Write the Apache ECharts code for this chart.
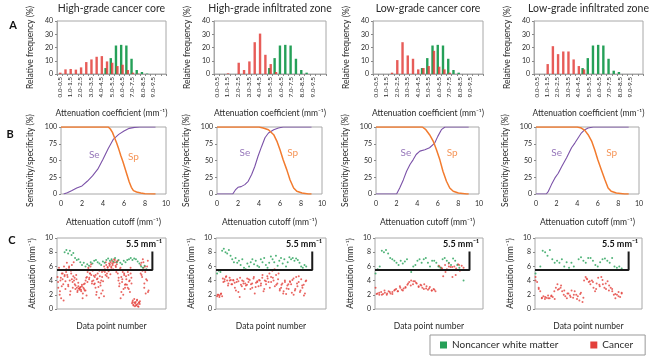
<!DOCTYPE html>
<html><head><meta charset="utf-8">
<script src="https://cdn.jsdelivr.net/npm/echarts@6/dist/echarts.min.js"></script>
<style>html,body{margin:0;padding:0;background:#fff}#c{width:650px;height:361px}</style>
</head><body><div id="c"></div>
<script>
// ---------------- DATA ----------------
const panelTitles = ['High-grade cancer core','High-grade infiltrated zone','Low-grade cancer core','Low-grade infiltrated zone'];
const binLabels = ['0.0-0.5','0.5-1.0','1.0-1.5','1.5-2.0','2.0-2.5','2.5-3.0','3.0-3.5','3.5-4.0','4.0-4.5','4.5-5.0','5.0-5.5','5.5-6.0','6.0-6.5','6.5-7.0','7.0-7.5','7.5-8.0','8.0-8.5','8.5-9.0','9.0-9.5','9.5-10.0','10.0-10.5'];
const freqTicks = [0,10,20,30,40];

const histNoncancer1 = [0,0,0,0,0,0,0,0,0,4.5,12,21.5,22,21.5,11.5,3,1.5,0.3,0,0,0];
const histCancer1    = [1,3.5,3.8,3.3,5,9,11,13,13.5,9.5,8.5,6,7,3,1,0.3,0,0,0,0,0];
const histNoncancer2 = [0,0,0,0,0,0,0,0,0,0,4.5,12,21.5,22,21.5,11.5,3,1,0,0,0];
const histCancer2    = [0,0,0.5,0,8.5,3,9.5,24,30.5,14.5,7.5,1.5,0,0,0,0,0,0,0,0,0];
const histNoncancer3 = [0,0,0,0,0,0,0,0,0,4.5,12,21.5,22,21.5,11.5,3,1,0,0,0,0];
const histCancer3    = [0,0,0,1,10.5,24,14,11.5,3.5,4.5,6,17.5,5.5,3.5,1,0,0,0,0,0,0];
const histNoncancer4 = [0,0,0,0,0,0,0,0,0,4.5,12,21.5,22,21.5,11.5,2.5,1.5,0,0,0,0];
const histCancer4    = [0,0,7.5,21,15,17,17,11,6,3.5,0,0,0,0,0,0,0,0,0,0,0];

// sensitivity (Se) / specificity (Sp) vs attenuation cutoff: [cutoff, %]
const se1 = [[0.25,0],[0.6,2],[1,5],[1.5,9],[2,12],[2.5,19],[3,27],[3.5,37],[4,52],[4.5,68],[5,82],[5.5,89],[6,94],[6.5,98],[7,99.5],[7.5,100],[9,100]];
const sp1 = [[0,100],[4.5,100],[4.7,97],[4.9,92],[5.1,84],[5.3,76],[5.5,67],[5.7,57],[5.9,48],[6.1,38],[6.3,28],[6.5,18],[6.7,10],[6.9,5],[7.2,3],[7.6,1.5],[8,0.5],[9,0]];
const se2 = [[0,0],[1.5,0],[1.75,6],[2,10],[2.3,11],[2.65,14],[2.97,19],[3.3,29],[3.6,41],[3.9,56],[4.25,71],[4.57,84],[4.9,91],[5.4,96],[5.85,98.5],[6.3,100],[9,100]];
const sp2 = [[0,100],[4,100],[4.4,98.5],[4.9,96],[5.4,88.5],[5.7,79],[6,66],[6.3,51],[6.65,36],[6.96,21],[7.3,9],[7.6,4],[8.1,1.5],[8.7,0],[9,0]];
const se3 = [[0,0],[2,0],[2.3,9],[2.65,21],[2.97,34],[3.3,44],[3.6,51],[3.9,59],[4.26,64],[4.74,66],[5.2,69],[5.7,76],[6,86],[6.35,96],[6.7,100],[9,100]];
const sp3 = [[0,100],[4.5,100],[4.84,96],[5.2,88.5],[5.55,79],[5.87,66],[6.2,51],[6.5,34],[6.84,19],[7.16,9],[7.5,4],[8,1.5],[8.8,0],[9,0]];
const se4 = [[0,0],[1,0],[1.2,4],[1.5,14],[1.84,24],[2.16,31],[2.5,41],[2.97,54],[3.45,69],[3.77,76],[4.1,84],[4.4,91],[4.74,96],[5.06,98.5],[5.55,100],[9,100]];
const sp4 = [[0,100],[4,100],[4.4,98.5],[4.74,95],[5.06,88.5],[5.4,79],[5.7,66],[6,51],[6.35,36],[6.7,21],[7,9],[7.3,4],[7.8,1.5],[8.6,0],[9,0]];
// label anchor points for "Se"/"Sp" [cutoff, %]
const seLabelAt = [[3.17,59],[2.65,62],[2.9,62],[2.0,62]];
const spLabelAt = [[6.9,56],[7.2,62],[7.4,62],[7.35,62]];

// attenuation per data point (mm^-1); each block spans [first, last] data point number (0-100 scale)
const cancerC1 = [4.5,3,5.5,2,4,1.5,5,4.2,3.5,6,4.8,2.8,
  5.2,6.5,4.5,3.2,5.8,4,2.5,5,6.2,3.8,4.6,
  4,3.5,2.8,4.8,3,2.6,3.2,2.9,2.7,3.1,2.5,3.4,1.5,3,2.8,3.6,2.6,4.4,
  4.5,5.2,5.8,4.2,5,6,4.8,3.6,5.4,
  4,3.5,4.5,3,2,4.2,5,3.8,1.6,4.6,3.3,4,5.2,2.6,
  5.4,6,5.6,4.8,6.2,5,5.8,4.4,6.4,
  6.3,6.6,5.8,6.8,6.2,6.5,5.5,6.9,6.1,5.2,6.7,
  5,4,3.2,5.6,1.5,4.5,3.8,5.2,2.8,4.8,3.4,
  3.5,4.2,5.5,3,4.8,3.9,2.4,5,4.4,
  0.8,1.2,0.5,0.9,0.4,1,0.6,1.3,0.7,0.3,0.9,1.1,
  5,6.5,4.5,7,5.8,3,6,2.2,5.5,4,6.8,2.6];
const cancerC1b = [3.8,5.8,2.5,4.4,3.2,5.0,1.2,4.6,3.9,5.6,
  4.8,3.4,6.0,2.0,5.4,4.2,3.0,6.6,4.4,
  3.3,4.2,2.4,3.7,2.9,3.0,2.7,3.2,2.2,3.5,2.6,4.0,1.9,3.8,
  5.6,4.4,5.0,6.3,3.9,5.5,4.7,
  3.6,4.8,2.4,4.3,3.1,5.4,3.7,2.2,4.5,3.9,1.8,
  5.2,6.6,4.6,5.9,5.3,6.1,4.9,
  6.0,6.4,5.6,7.0,6.6,5.9,6.3,6.8,
  4.4,3.6,5.8,2.4,4.2,2.0,5.0,3.0,
  4.6,3.4,5.2,2.8,4.0,5.8,3.6,
  1.0,0.6,1.4,0.8,0.5,1.2,0.4,0.9,0.7,
  6.2,4.8,5.4,6.6,3.6,5.2,4.2,6.0,2.4];
const noncancerC1 = [8.0,8.3,7.8,8.2,7.6,7.9,7.2,6.9,7.0,6.6,6.2,6.5,6.0,6.3,6.1,6.6,6.4,6.8,6.9,6.6,6.4,6.2,6.7,6.5,6.9,7.1,6.8,7.0,6.7,7.2,6.6,6.9,6.5,6.3,6.8,6.6,6.9,7.0,7.2,6.9,7.1,7.0,6.7,6.4,6.0,5.8,6.1,5.6];
const cancerC2 = [1.8,2.0,1.9,2.1,1.8,
  3.8,4.2,4.5,4.0,3.6,4.4,4.1,3.5,
  4.0,3.7,2.6,4.2,3.9,1.7,3.4,4.0,3.6,2.8,3.3,4.3,
  3.8,4.1,3.5,3.0,4.3,2.2,3.7,3.9,3.2,4.0,
  3.6,4.4,2.5,4.0,3.5,4.6,3.8,3.0,
  4.5,5.4,4.0,3.2,4.8,3.6,5.0,2.8,
  3.0,3.6,2.5,4.0,2.1,3.3,2.8,3.9,
  3.5,4.1,2.0,2.6,4.5,3.2,3.8,2.4,4.2,3.0,3.4,2.2,4.0];
const cancerC2b = [2.0,1.7,2.2,
  4.3,3.9,4.6,3.3,4.0,
  3.5,4.1,3.0,3.8,2.4,4.4,3.2,3.9,3.6,
  3.4,4.2,2.8,3.6,4.5,3.1,3.8,
  4.1,3.3,4.8,2.8,3.9,4.3,
  5.0,3.8,4.4,5.6,3.4,4.2,
  2.6,3.4,2.2,3.8,2.9,3.5,
  3.8,2.3,4.3,2.8,3.6,4.6,2.6,3.3,1.9,3.9];
const noncancerC2 = [5.0,5.4,5.2,8.2,8.5,8.0,7.8,8.3,7.5,7.0,6.6,7.2,6.5,6.8,6.2,7.0,5.8,5.6,6.4,6.0,6.6,7.0,6.3,6.8,6.1,5.9,7.0,6.6,7.2,6.2,5.8,6.5,7.4,7.0,6.6,7.5,6.1,6.8,7.2,6.4,7.0,6.0,6.6,7.3,7.0,7.2,6.8,7.1,6.9,6.5,6.0,5.8,6.2,6.0];
const cancerC3a = [3.0,2.2,2.0,2.4,2.1,2.3,2.0,2.5,2.2,2.4,2.6,2.8,2.5,3.2,2.7,2.9,3.0,3.4,3.8,4.0,3.5,3.9,3.6,3.2,3.4,3.0,3.5,2.9,2.7,3.1,2.6,2.8,2.5];
const cancerC3c = [2.1,2.3,2.0,2.6,2.2,2.4,2.1,2.7,2.5,3.0,2.6,3.1,3.6,3.3,3.9,3.7,3.1,3.3,2.8,3.2,2.9,2.6,2.7];
const cancerC3b = [5.5,6.0,5.8,4.6,6.2,5.6,6.4,5.9,4.5,6.0,5.7,6.3,5.4,6.1,5.8];
const cancerC3d = [6.1,5.7,5.2,6.0,5.9,4.8,6.2,5.5];
const noncancerC3 = [5.0,5.6,6.0,8.2,8.0,8.3,7.8,7.2,7.0,6.8,6.5,6.2,6.8,6.4,6.7,7.0,5.5,5.2,6.0,6.2,6.8,7.0,6.5,7.0,7.2,6.5,6.0,6.8,6.8,6.5,6.0,5.8,7.0,7.2,6.8,6.5,6.2,7.1,6.8,6.2,5.8,5.5,4.0];
const cancerC4 = [4.5,3.8,3.0,2.5,
  1.5,1.8,1.4,1.6,1.9,1.5,1.8,1.7,
  2.5,3.0,3.5,2.8,
  3.0,2.5,2.0,1.8,1.5,2.2,1.9,2.6,1.6,
  2.5,2.0,1.8,1.2,2.3,1.0,
  4.0,4.5,4.2,3.8,
  3.5,4.0,3.0,2.5,3.6,4.4,3.2,
  4.5,3.5,3.0,2.8,3.9,3.3,
  3.0,2.5,2.0,1.5,2.0,2.4,1.7,2.2];
const cancerC4b = [4.0,2.8,1.6,1.7,1.5,1.9,1.4,2.7,3.3,2.6,2.2,1.7,2.0,1.4,2.1,1.6,4.3,3.9,3.8,2.8,3.4,4.1,3.6,2.6,2.8,2.1,1.8,2.3];
const noncancerC4 = [5.0,5.5,6.0,8.2,8.0,7.5,8.3,7.0,6.5,6.8,6.5,7.0,6.0,6.6,5.8,6.5,6.0,5.5,7.0,7.3,6.8,6.5,7.2,7.2,6.8,6.2,6.0,6.6,7.0,7.1,6.8,6.5,7.2,6.0,5.8,6.0,5.7];

const scatterBlocks = [
  {cancer:[{v:cancerC1,from:0.5,to:84},{v:cancerC1b,from:1,to:83.5}], noncancer:[{v:noncancerC1,from:7,to:82}]},
  {cancer:[{v:cancerC2,from:1,to:82},{v:cancerC2b,from:1.5,to:81.5}], noncancer:[{v:noncancerC2,from:1,to:82}]},
  {cancer:[{v:cancerC3a,from:0.5,to:56},{v:cancerC3c,from:1.5,to:55},{v:cancerC3b,from:58,to:82},{v:cancerC3d,from:59,to:81}], noncancer:[{v:noncancerC3,from:0.5,to:82}]},
  {cancer:[{v:cancerC4,from:0.5,to:81},{v:cancerC4b,from:0.5,to:81}], noncancer:[{v:noncancerC4,from:0.5,to:81}]}
];
const threshold = 5.5;      // mm^-1 cutoff line
const scaleBarTop = 8.1;    // top of the vertical scale bar
const scaleBarAt = 87.5;    // data point number where scale bar sits
const legendNames = ['Noncancer white matter','Cancer'];

const histNon = [histNoncancer1,histNoncancer2,histNoncancer3,histNoncancer4];
const histCan = [histCancer1,histCancer2,histCancer3,histCancer4];
const seData = [se1,se2,se3,se4], spData = [sp1,sp2,sp3,sp4];

// ---------------- LAYOUT / STYLE ----------------
const FONT = 'Lato, "Noto Sans", sans-serif';
const RED = '#e3403b', GREEN = '#25a058', SEC = '#7b52a8', SPC = '#f27b2e';
const BORDER = '#a8a8a8', TXT = '#2a2a2a';
const rowA = {top:21, height:53, cols:[[57,109],[214,112],[373,110],[534,109]]};
const rowB = {top:127, height:67, cols:[[61,105],[217,105],[376,103],[536,103]]};
const rowC = {top:238, height:71, cols:[[57,109],[216,110],[375,108],[535,107]]};

const grid=[], xAxis=[], yAxis=[], series=[], graphic=[];
const tickLbl = {fontSize:7, color:TXT, fontFamily:FONT};
const nameStyle = {fontSize:8.5, color:TXT, fontFamily:FONT};

function addGrid(row, c){
  grid.push({left:row.cols[c][0], top:row.top, width:row.cols[c][1], height:row.height,
    show:true, borderColor:BORDER, borderWidth:1, backgroundColor:'transparent'});
  return grid.length-1;
}

// Row A
for(let c=0;c<4;c++){
  const g = addGrid(rowA,c);
  xAxis.push({gridIndex:g, type:'category', data:binLabels, boundaryGap:true,
    axisLine:{show:true, lineStyle:{color:BORDER}},
    axisTick:{show:true, interval:0, length:2, lineStyle:{color:'#888'}},
    axisLabel:{rotate:90, fontSize:6.5, margin:3, color:TXT, fontFamily:FONT, interval:(i)=> i%2===0 && i<20},
    name:'Attenuation coefficient (mm\u207B\u00B9)', nameLocation:'middle', nameGap:35, nameTextStyle:nameStyle});
  yAxis.push({gridIndex:g, type:'value', min:freqTicks[0], max:freqTicks[freqTicks.length-1], interval:10,
    splitLine:{show:false}, axisLine:{show:true, lineStyle:{color:BORDER}},
    axisTick:{show:true, length:2, lineStyle:{color:'#888'}}, axisLabel:Object.assign({margin:4}, tickLbl),
    name:'Relative frequency (%)', nameLocation:'middle', nameGap:22, nameTextStyle:nameStyle});
  series.push({type:'bar', name:legendNames[0], xAxisIndex:g, yAxisIndex:g, data:histNon[c],
    barWidth:2.4, barGap:'-40%', itemStyle:{color:GREEN}, silent:true});
  series.push({type:'bar', name:legendNames[1], xAxisIndex:g, yAxisIndex:g, data:histCan[c],
    barWidth:2.4, barGap:'-40%', itemStyle:{color:RED, opacity:0.85}, silent:true});
  graphic.push({type:'text', x:rowA.cols[c][0]+rowA.cols[c][1]/2, y:9,
    style:{text:panelTitles[c], fill:TXT, fontSize:10.5, fontFamily:FONT, align:'center', verticalAlign:'middle'}});
}
// Row B
for(let c=0;c<4;c++){
  const g = addGrid(rowB,c);
  xAxis.push({gridIndex:g, type:'value', min:0, max:10, interval:2, splitLine:{show:false},
    axisLine:{show:false}, axisTick:{show:false}, axisLabel:Object.assign({margin:6}, tickLbl),
    name:'Attenuation cutoff (mm\u207B\u00B9)', nameLocation:'middle', nameGap:24, nameTextStyle:nameStyle});
  yAxis.push({gridIndex:g, type:'value', min:0, max:100, interval:25, splitLine:{show:false},
    axisLine:{show:false}, axisTick:{show:true, length:2, lineStyle:{color:'#888'}}, axisLabel:Object.assign({margin:4}, tickLbl),
    name:'Sensitivity/specificity (%)', nameLocation:'middle', nameGap:26, nameTextStyle:nameStyle});
  series.push({type:'line', name:'Se', xAxisIndex:g, yAxisIndex:g, data:seData[c], symbol:'none',
    lineStyle:{color:SEC, width:1.1}, silent:true});
  series.push({type:'line', name:'Sp', xAxisIndex:g, yAxisIndex:g, data:spData[c], symbol:'none',
    lineStyle:{color:SPC, width:1.5}, silent:true});
  series.push({type:'scatter', name:'SeLbl', xAxisIndex:g, yAxisIndex:g, data:[seLabelAt[c]], symbolSize:0, silent:true,
    label:{show:true, position:'inside', formatter:'Se', color:SEC, fontSize:10, fontFamily:FONT}});
  series.push({type:'scatter', name:'SpLbl', xAxisIndex:g, yAxisIndex:g, data:[spLabelAt[c]], symbolSize:0, silent:true,
    label:{show:true, position:'inside', formatter:'Sp', color:SPC, fontSize:10, fontFamily:FONT}});
}
// Row C
function spread(block){
  const n = block.v.length;
  return block.v.map((y,k)=>[block.from + k*(block.to-block.from)/(n-1), y]);
}
for(let c=0;c<4;c++){
  const g = addGrid(rowC,c);
  xAxis.push({gridIndex:g, type:'value', min:0, max:100, splitLine:{show:false},
    axisLine:{show:false}, axisTick:{show:false}, axisLabel:{show:false},
    name:'Data point number', nameLocation:'middle', nameGap:13, nameTextStyle:nameStyle});
  yAxis.push({gridIndex:g, type:'value', min:0, max:10, interval:2, splitLine:{show:false},
    axisLine:{show:false}, axisTick:{show:true, length:2, lineStyle:{color:'#888'}}, axisLabel:Object.assign({margin:4}, tickLbl),
    name:'Attenuation (mm\u207B\u00B9)', nameLocation:'middle', nameGap:20, nameTextStyle:nameStyle});
  const blk = scatterBlocks[c];
  const canPts = [].concat(...blk.cancer.map(spread));
  const nonPts = [].concat(...blk.noncancer.map(spread));
  series.push({type:'scatter', name:legendNames[1], xAxisIndex:g, yAxisIndex:g, data:canPts, symbolSize:2,
    itemStyle:{color:RED}, silent:true});
  series.push({type:'scatter', name:legendNames[0], xAxisIndex:g, yAxisIndex:g, data:nonPts, symbolSize:2,
    itemStyle:{color:GREEN}, silent:true});
  series.push({type:'line', name:'cut', xAxisIndex:g, yAxisIndex:g,
    data:[[0,threshold],[scaleBarAt,threshold],[scaleBarAt,scaleBarTop]], symbol:'none',
    lineStyle:{color:'#1a1a1a', width:2}, silent:true, z:5});
  const right = rowC.cols[c][0]+rowC.cols[c][1];
  graphic.push({type:'text', x:right-22, y:rowC.top+6,
    style:{text:threshold+' mm\u207B\u00B9', fill:'#111', fontSize:9, fontWeight:'bold', fontFamily:FONT, align:'center', verticalAlign:'middle'}});
}
// panel letters
[['A',13,25],['B',10,134],['C',12,240]].forEach(([t,x,y])=>{
  graphic.push({type:'text', x:x, y:y, style:{text:t, fill:'#111', fontSize:11, fontWeight:'bold', fontFamily:FONT, align:'center', verticalAlign:'middle'}});
});

const option = {
  animation:false,
  textStyle:{fontFamily:FONT},
  grid, xAxis, yAxis, series, graphic,
  legend:{data:legendNames, left:430, top:335, width:260, orient:'horizontal',
    padding:[5,12,5,10], itemGap:32, itemWidth:7, itemHeight:7, icon:'rect',
    borderColor:'#999', borderWidth:1, selectedMode:false,
    itemStyle:{opacity:1},
    textStyle:{fontSize:10, color:TXT, fontFamily:FONT}}
};
const chart = echarts.init(document.getElementById('c'), null, {renderer:'canvas'});
chart.setOption(option);
</script>
</body></html>
